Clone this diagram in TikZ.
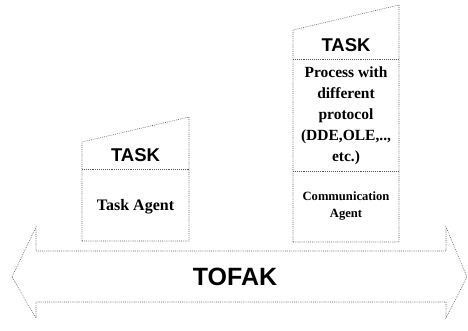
\documentclass[tikz,border=0pt]{standalone}
\usepackage{fontspec}
\setmainfont{Liberation Serif}
\setsansfont{Liberation Sans}
\begin{document}
\begin{tikzpicture}[x=1pt,y=-1pt,
  outline/.style={draw=black!65, line width=0.55pt, dash pattern=on 0.8pt off 1.1pt},
  tasklabel/.style={font=\sffamily\bfseries\fontsize{18.5}{21}\selectfont, inner sep=0pt},
  bodytext/.style={font=\rmfamily\bfseries\fontsize{15.5}{21}\selectfont, align=center, inner sep=0pt},
  smalltext/.style={font=\rmfamily\bfseries\fontsize{12.6}{17}\selectfont, align=center, inner sep=0pt}]
\useasboundingbox (0,0) rectangle (468,331);

% left task column
\draw[outline] (82,241) -- (82,142) -- (189,117) -- (189,241) -- cycle;
\draw[outline] (82,169) -- (189,169);
\node[tasklabel] (taskA) at (135.5,155) {TASK};
\node[bodytext, font=\rmfamily\bfseries\fontsize{16}{21}\selectfont] (agentA) at (135.5,207) {Task Agent};

% right task column
\draw[outline] (293,242) -- (293,30) -- (399,5) -- (399,242) -- cycle;
\draw[outline] (293,59) -- (399,59);
\draw[outline] (293,171) -- (399,171);
\node[tasklabel] (taskB) at (346,45) {TASK};
\node[bodytext] (procB) at (346,116) {Process with\\different\\protocol\\(DDE,OLE,..,\\etc.)};
\node[smalltext] (agentB) at (346,206) {Communication\\Agent};

% double-headed TOFAK bus
\draw[outline] (12,277) -- (36,227) -- (36,251) -- (446,251) -- (446,227)
  -- (467,277) -- (446,318) -- (446,302) -- (36,302) -- (36,318) -- cycle;
\node[font=\sffamily\bfseries\fontsize{25}{29}\selectfont, inner sep=0pt] (bus) at (235,277) {TOFAK};
\end{tikzpicture}
\end{document}
